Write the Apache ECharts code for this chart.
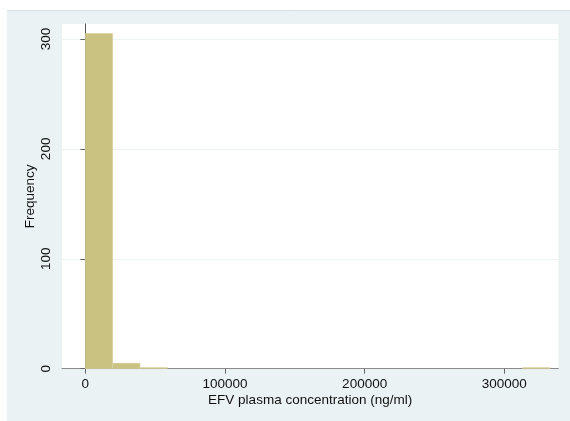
<!DOCTYPE html>
<html>
<head>
<meta charset="utf-8">
<script src="https://cdn.jsdelivr.net/npm/echarts@6/dist/echarts.min.js"></script>
<style>
  html, body { margin: 0; padding: 0; background: #ffffff; }
  #chart { width: 570px; height: 421px; }
</style>
</head>
<body>
<div id="chart"></div>
<script>
// Histogram of EFV plasma concentration, 17 equal-width bins
const binStart = 0;
const binWidth = 19572;
const binCounts = [305, 5, 1, 0, 0, 0, 0, 0, 0, 0, 0, 0, 0, 0, 0, 0, 1];
const xTicks = [0, 100000, 200000, 300000];
const yTicks = [0, 100, 200, 300];
const xTitle = 'EFV plasma concentration (ng/ml)';
const yTitle = 'Frequency';

const bins = binCounts.map((c, i) => [binStart + i * binWidth, binStart + (i + 1) * binWidth, c]);

const chart = echarts.init(document.getElementById('chart'), null, { renderer: 'canvas' });
const font = 'Liberation Sans, Arial, Helvetica, sans-serif';

chart.setOption({
  backgroundColor: '#ffffff',
  animation: false,
  graphic: [
    {
      type: 'rect',
      z: -10,
      silent: true,
      shape: { x: 7, y: 10, width: 570, height: 420 },
      style: { fill: '#eaf2f3' }
    },
    {
      type: 'line',
      z: -9,
      silent: true,
      shape: { x1: 7, y1: 10.5, x2: 570, y2: 10.5 },
      style: { stroke: '#d6dfe1', lineWidth: 1 }
    }
  ],
  grid: {
    left: 62, top: 24, right: 11.7, bottom: 52.3,
    show: true, backgroundColor: '#ffffff', borderWidth: 0
  },
  xAxis: {
    type: 'value',
    min: -16680,
    max: 338650,
    name: xTitle,
    nameLocation: 'middle',
    nameGap: 25,
    nameMoveOverlap: false,
    nameTextStyle: { color: '#111', fontSize: 13.5, fontFamily: font },
    axisLine: { show: true, lineStyle: { color: '#8a8a8a', width: 1 } },
    axisTick: { show: true, length: 5, customValues: xTicks, lineStyle: { color: '#666' } },
    axisLabel: {
      customValues: xTicks, margin: 9, color: '#111', fontSize: 13.5, fontFamily: font,
      formatter: v => String(v)
    },
    splitLine: { show: false }
  },
  yAxis: {
    type: 'value',
    min: 0,
    max: 313.6,
    interval: 100,
    name: yTitle,
    nameLocation: 'middle',
    nameGap: 25,
    nameMoveOverlap: false,
    nameRotate: 90,
    nameTextStyle: { color: '#111', fontSize: 13.5, fontFamily: font },
    axisLine: { show: true, lineStyle: { color: '#555', width: 1 } },
    axisTick: { show: true, length: 5, customValues: yTicks, lineStyle: { color: '#666' } },
    axisLabel: {
      customValues: yTicks, rotate: 90, margin: 9, color: '#111', fontSize: 13.5, fontFamily: font
    },
    splitLine: { show: true, lineStyle: { color: '#eef3f3', width: 1 } }
  },
  series: [
    {
      type: 'custom',
      data: bins,
      encode: { x: [0, 1], y: 2 },
      renderItem: function (params, api) {
        const count = api.value(2);
        if (count <= 0) return null;
        const p0 = api.coord([api.value(0), 0]);
        const p1 = api.coord([api.value(1), count]);
        return {
          type: 'rect',
          shape: { x: p0[0], y: p1[1], width: p1[0] - p0[0], height: p0[1] - p1[1] },
          style: { fill: '#cac280', stroke: '#d8d2a2', lineWidth: 0.6 }
        };
      }
    }
  ]
});
</script>
</body>
</html>
